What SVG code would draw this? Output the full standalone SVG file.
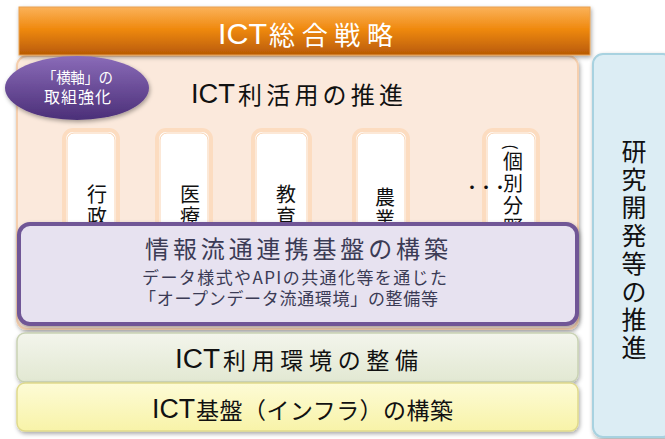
<svg xmlns="http://www.w3.org/2000/svg" width="665" height="439" viewBox="0 0 665 439">
<defs>
<linearGradient id="gOrange" x1="0" y1="0" x2="0" y2="1">
<stop offset="0" stop-color="#fbb25a"/><stop offset="0.45" stop-color="#f08a10"/><stop offset="1" stop-color="#b85a05"/>
</linearGradient>
<linearGradient id="gPurple" x1="0" y1="0" x2="0" y2="1">
<stop offset="0" stop-color="#8a6bb8"/><stop offset="1" stop-color="#4b2f78"/>
</linearGradient>
<linearGradient id="gGreen" x1="0" y1="0" x2="0" y2="1">
<stop offset="0" stop-color="#f3f5ec"/><stop offset="1" stop-color="#e2e8d2"/>
</linearGradient>
<linearGradient id="gYellow" x1="0" y1="0" x2="0" y2="1">
<stop offset="0" stop-color="#fdfbd6"/><stop offset="1" stop-color="#f8f3a8"/>
</linearGradient>
<filter id="sh" x="-10%" y="-10%" width="120%" height="130%">
<feDropShadow dx="1" dy="2" stdDeviation="2" flood-color="#000" flood-opacity="0.35"/>
</filter>
</defs>
<style>
text{font-family:"Noto Sans CJK JP","Noto Sans",sans-serif;}
.lat{font-family:"Liberation Sans",Arial,sans-serif;}
.card{fill:#ffffff;stroke:#fcdcc0;stroke-width:4;}
.cardin{fill:none;stroke:#f9d2b0;stroke-width:1;}
.ct{font-size:20px;fill:#111;text-anchor:middle;}
</style>
<g id="blue">
<rect x="593" y="54" width="80" height="383" rx="10" fill="#dcedf4" stroke="#a8d2e0" stroke-width="2" filter="url(#sh)"/>
<text font-size="25" fill="#111" text-anchor="middle"><tspan x="634" y="161">研</tspan><tspan x="634" y="189">究</tspan><tspan x="634" y="217">開</tspan><tspan x="634" y="245">発</tspan><tspan x="634" y="273">等</tspan><tspan x="634" y="301">の</tspan><tspan x="634" y="329">推</tspan><tspan x="634" y="357">進</tspan></text>
</g>
<g id="peach">
<rect x="17" y="56" width="561" height="273" rx="10" fill="#fbe9dc" stroke="#f5cfae" stroke-width="2" filter="url(#sh)"/>
<text class="lat" x="191" y="103" font-size="27" fill="#111" textLength="44" lengthAdjust="spacingAndGlyphs">ICT</text>
<text x="238" y="104" font-size="24" fill="#111" textLength="165" lengthAdjust="spacing">利活用の推進</text>
</g>
<g id="cards">
<rect class="card" x="64" y="130" width="54" height="110" rx="9"/><rect class="cardin" x="67" y="133" width="48" height="107" rx="7"/>
<text class="ct"><tspan x="97" y="202">行</tspan><tspan x="97" y="224">政</tspan></text>
<rect class="card" x="157" y="130" width="54" height="110" rx="9"/><rect class="cardin" x="160" y="133" width="48" height="107" rx="7"/>
<text class="ct"><tspan x="190" y="202">医</tspan><tspan x="190" y="224">療</tspan></text>
<rect class="card" x="253" y="130" width="57" height="110" rx="9"/><rect class="cardin" x="256" y="133" width="51" height="107" rx="7"/>
<text class="ct"><tspan x="286" y="202">教</tspan><tspan x="286" y="224">育</tspan></text>
<rect class="card" x="354" y="130" width="54" height="110" rx="9"/><rect class="cardin" x="357" y="133" width="48" height="107" rx="7"/>
<text class="ct"><tspan x="385" y="205">農</tspan><tspan x="385" y="227">業</tspan></text>
<rect class="card" x="484" y="130" width="54" height="110" rx="9"/><rect class="cardin" x="487" y="133" width="48" height="107" rx="7"/>
<text font-size="16" fill="#111" text-anchor="middle" transform="translate(509 147) rotate(90)" x="0" y="4">(</text>
<text class="ct"><tspan x="513" y="169">個</tspan><tspan x="513" y="191">別</tspan><tspan x="513" y="213">分</tspan><tspan x="513" y="235">野</tspan></text>
<text x="465" y="192" font-size="14" font-weight="700" fill="#111">・・・</text>
</g>
<g id="orange">
<rect x="19" y="7" width="571" height="48" fill="url(#gOrange)" stroke="#e8a050" stroke-width="1" filter="url(#sh)"/>
<text class="lat" x="218" y="44" font-size="29" fill="#fff" textLength="49" lengthAdjust="spacingAndGlyphs">ICT</text>
<text x="269" y="45" font-size="26" fill="#fff" textLength="124" lengthAdjust="spacing">総合戦略</text>
</g>
<g id="ellipse">
<ellipse cx="77" cy="88" rx="72" ry="32" fill="url(#gPurple)" filter="url(#sh)"/>
<text x="42" y="83" font-size="14.5" fill="#fff" textLength="71" lengthAdjust="spacing">「横軸」の</text>
<text x="44" y="103" font-size="16" fill="#fff" textLength="67" lengthAdjust="spacing">取組強化</text>
</g>
<g id="purple">
<rect x="19" y="224" width="558" height="100" rx="11" fill="#e7e2f0" stroke="#6f5696" stroke-width="4" filter="url(#sh)"/>
<text x="145" y="258" font-size="24" fill="#3b3b55" textLength="303" lengthAdjust="spacing">情報流通連携基盤の構築</text>
<text x="142" y="284" font-size="17" fill="#3b3b55" textLength="305" lengthAdjust="spacing">データ様式やAPIの共通化等を通じた</text>
<text x="139" y="305" font-size="17" fill="#3b3b55" textLength="299" lengthAdjust="spacing">「オープンデータ流通環境」の整備等</text>
</g>
<g id="green">
<rect x="17" y="333" width="561" height="49" rx="8" fill="url(#gGreen)" stroke="#c9d2b4" stroke-width="1.5" filter="url(#sh)"/>
<text class="lat" x="175" y="368" font-size="27" fill="#111" textLength="45" lengthAdjust="spacingAndGlyphs">ICT</text>
<text x="223" y="369" font-size="23" fill="#111" textLength="195" lengthAdjust="spacing">利用環境の整備</text>
</g>
<g id="yellow">
<rect x="17" y="383" width="561" height="48" rx="8" fill="url(#gYellow)" stroke="#e0da8c" stroke-width="1.5" filter="url(#sh)"/>
<text class="lat" x="152" y="418" font-size="27" fill="#111" textLength="43" lengthAdjust="spacingAndGlyphs">ICT</text>
<text x="196" y="419" font-size="23" fill="#111" textLength="257" lengthAdjust="spacing">基盤（インフラ）の構築</text>
</g>
</svg>
